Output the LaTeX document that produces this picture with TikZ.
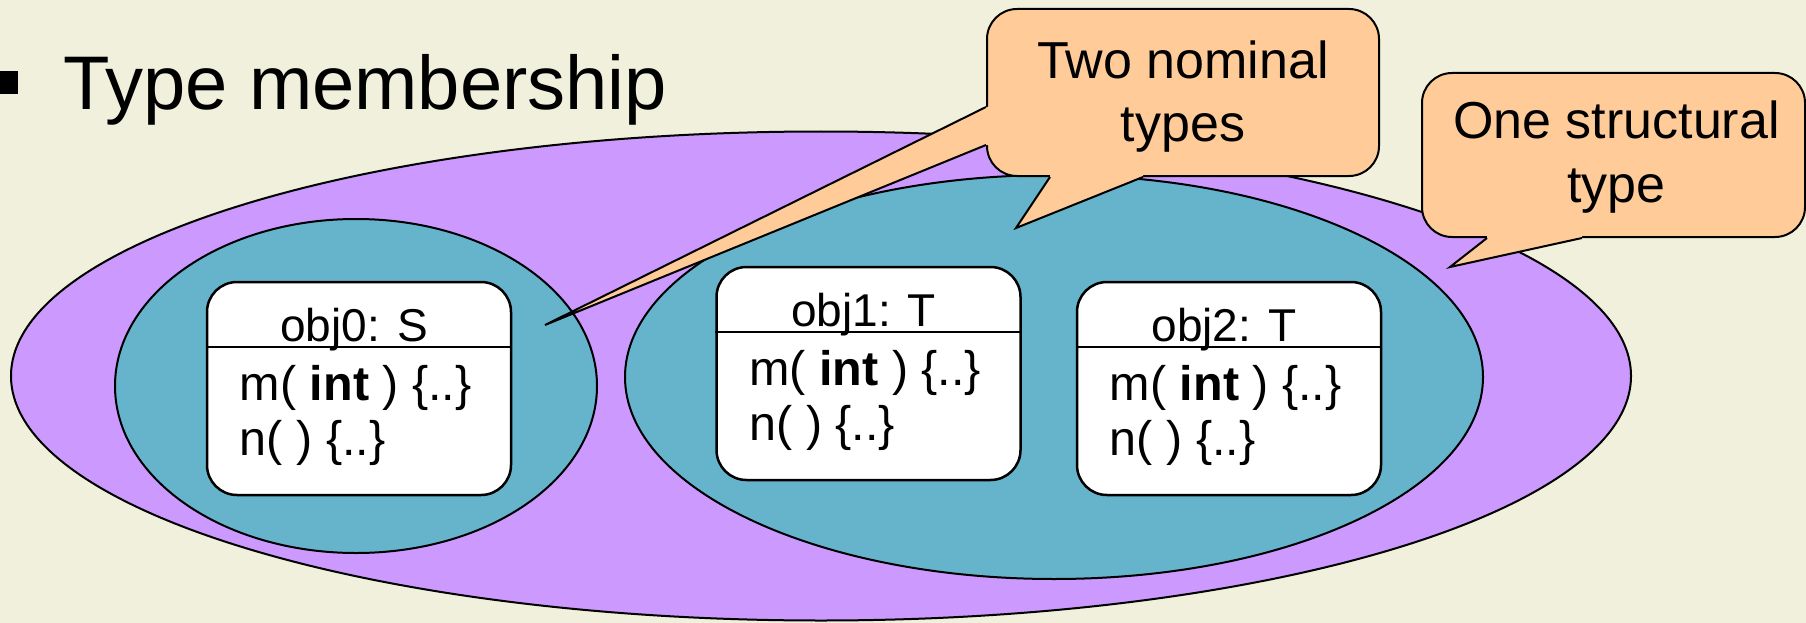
\documentclass[tikz,border=0pt]{standalone}
\usepackage{fontspec}
\setmainfont{Liberation Sans}
\usetikzlibrary{shapes.geometric,positioning}
\definecolor{slidebg}{RGB}{240,240,220}
\definecolor{lilac}{RGB}{204,153,255}
\definecolor{setblue}{RGB}{102,179,204}
\definecolor{peach}{RGB}{255,204,153}
\tikzset{
  typeset/.style={ellipse,draw=black,line width=2pt,inner sep=0pt},
  objbox/.style={draw=black,fill=white,line width=2.5pt,rounded corners=30pt,minimum width=304pt,minimum height=213pt,inner sep=0pt},
  objname/.style={anchor=base,inner sep=0pt,font=\fontsize{46}{54}\selectfont},
  objline/.style={anchor=base west,inner sep=0pt,font=\fontsize{48.5}{56}\selectfont},
  callbox/.style={draw=black,fill=peach,line width=2pt,rounded corners=30pt,inner sep=0pt},
  calltext/.style={anchor=base,inner sep=0pt,font=\fontsize{52}{63}\selectfont}
}
\begin{document}
\begin{tikzpicture}[x=1pt,y=-1pt]
    \fill[slidebg] (0,0) rectangle (1806,623);
    \useasboundingbox (0,0) rectangle (1806,623);
    \node[fill=black,minimum size=23pt,inner sep=0pt] (bullet) at (6.5,82.5) {};
    \node[anchor=base west,inner sep=0pt,font=\fontsize{76}{90}\selectfont] (title) at (63,110) {Type membership};

    \node[typeset,fill=lilac,minimum width=1620pt,minimum height=489pt] (structural) at (821,376) {};
    \node[typeset,fill=setblue,minimum width=482pt,minimum height=334pt] (typeS) at (356,386) {};
    \node[typeset,fill=setblue,minimum width=858pt,minimum height=404pt] (typeT) at (1054,377) {};

    \foreach \o/\x/\y/\t in {obj0/359/388.5/S, obj1/868.5/373.5/T, obj2/1229/388.5/T} {
        \node[objbox] (\o) at (\x,\y) {};
        \draw[line width=2pt] ([yshift=-66pt]\o.north west) -- ([yshift=-66pt]\o.north east);
        \node[objname] (\o-name) at ([xshift=-5pt,yshift=-61pt]\o.north) {\o: \t};
        \node[objline] (\o-m) at ([xshift=34pt,yshift=-120pt]\o.north west) {m( \textbf{int} ) \{..\}};
        \node[objline] (\o-n) at ([xshift=34pt,yshift=-175pt]\o.north west) {n( ) \{..\}};
    }

    \node[callbox,minimum width=392pt,minimum height=167pt] (nominal) at (1183,92.5) {};
    \coordinate (nomA) at ([yshift=-99pt]nominal.north west);
    \coordinate (nomB) at ([yshift=-137pt]nominal.north west);
    \coordinate (nomC) at ([xshift=64pt]nominal.south west);
    \coordinate (nomD) at ([xshift=157pt]nominal.south west);
    \coordinate (tipS) at (545,325);
    \coordinate (tipT) at (1016,228);
    \fill[peach] (nomA) -- (tipS) -- (nomB) -- ([xshift=4pt]nomB) -- ([xshift=4pt]nomA) -- cycle;
    \fill[peach] (nomC) -- (tipT) -- (nomD) -- ([yshift=4pt]nomD) -- ([yshift=4pt]nomC) -- cycle;
    \draw[line width=2pt] (nomA) -- (tipS) -- (nomB);
    \draw[line width=2pt] (nomC) -- (tipT) -- (nomD);
    \node[calltext] (nominal-1) at ([yshift=-71pt]nominal.north) {Two nominal};
    \node[calltext] (nominal-2) at ([yshift=-134pt]nominal.north) {types};

    \node[callbox,minimum width=383pt,minimum height=164pt] (onestruct) at (1613.5,155) {};
    \coordinate (strA) at ([xshift=66pt]onestruct.south west);
    \coordinate (strB) at ([xshift=161pt]onestruct.south west);
    \coordinate (tipU) at (1450,267);
    \fill[peach] (strA) -- (tipU) -- (strB) -- ([yshift=4pt]strB) -- ([yshift=4pt]strA) -- cycle;
    \draw[line width=2pt] (strA) -- (tipU) -- (strB);
    \node[calltext] (onestruct-1) at ([xshift=3pt,yshift=-67pt]onestruct.north) {One structural};
    \node[calltext] (onestruct-2) at ([xshift=3pt,yshift=-130pt]onestruct.north) {type};
\end{tikzpicture}
\end{document}
